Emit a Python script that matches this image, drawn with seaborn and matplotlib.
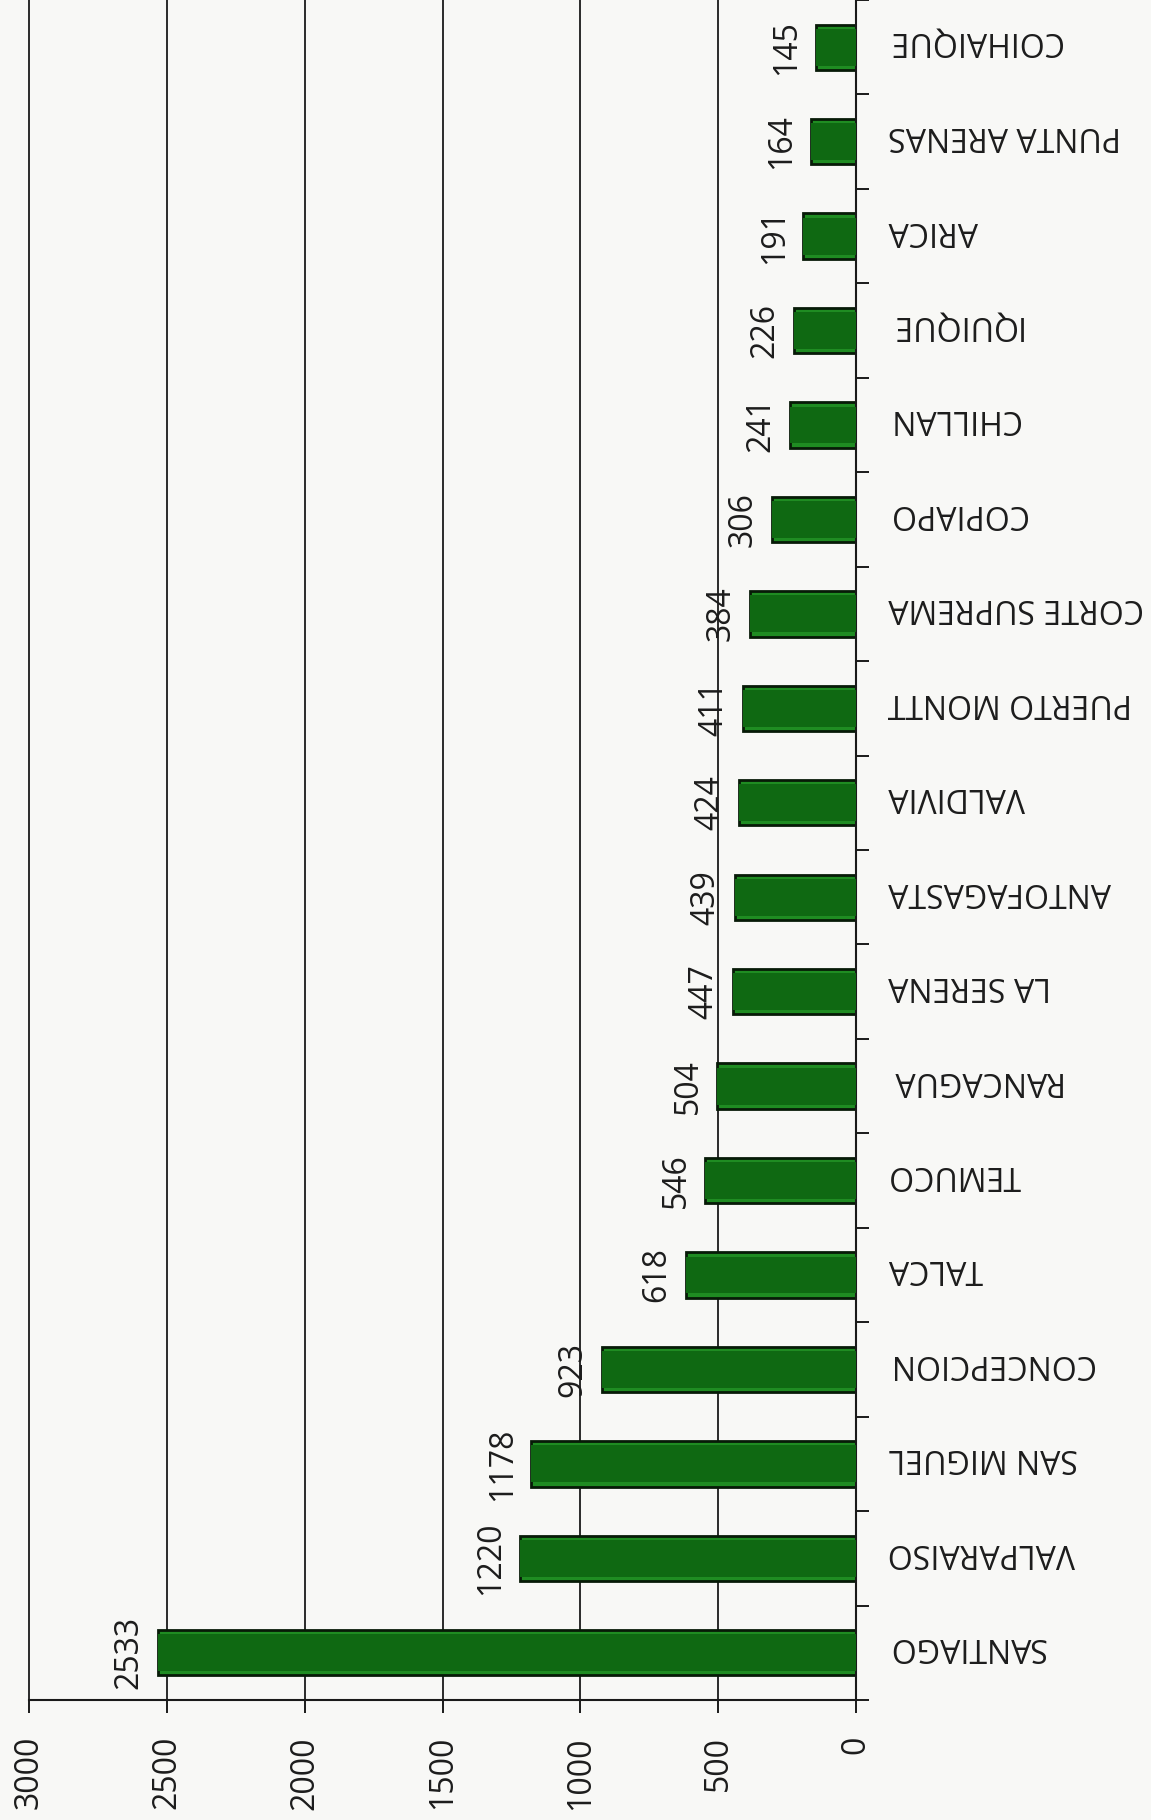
import numpy as np
import pandas as pd
import seaborn as sns
import matplotlib.pyplot as plt
import matplotlib.transforms as mtransforms

# causas por corte, de mayor a menor (pagina escaneada, girada)
cortes = [
    "SANTIAGO", "VALPARAISO", "SAN MIGUEL", "CONCEPCION", "TALCA",
    "TEMUCO", "RANCAGUA", "LA SERENA", "ANTOFAGASTA", "VALDIVIA",
    "PUERTO MONTT", "CORTE SUPREMA", "COPIAPO", "CHILLAN", "IQUIQUE",
    "ARICA", "PUNTA ARENAS", "COIHAIQUE",
]
totales = [2533, 1220, 1178, 923, 618, 546, 504, 447, 439, 424,
           411, 384, 306, 241, 226, 191, 164, 145]
ticks_valor = [0, 500, 1000, 1500, 2000, 2500, 3000]

PAPER = "#f8f8f6"
INK = "#1c1c1c"
FONT = 23

sns.set_style("white")
plt.rcParams["font.family"] = ["Open Sans", "DejaVu Sans"]

df = pd.DataFrame({"corte": cortes, "total": totales})
n = len(cortes)

W, H = 1151, 1820
fig = plt.figure(figsize=(W / 100, H / 100), dpi=100, facecolor=PAPER)
ax = fig.add_axes([29 / W, 120 / H, (856 - 29) / W, 1700 / H])
ax.set_facecolor(PAPER)

# barra base (bisel claro) + centro oscuro
sns.barplot(data=df, x="total", y="corte", orient="h", order=cortes,
            color="#1f8c22", saturation=1, width=0.48,
            edgecolor="#071a07", linewidth=2, ax=ax, zorder=2)
sns.barplot(data=df, x="total", y="corte", orient="h", order=cortes,
            color="#0f6912", saturation=1, width=0.39,
            linewidth=0, ax=ax, zorder=3)

ax.set_xlim(3000, 0)
ax.set_ylim(-0.5, -0.5 + 1700 / 99.4)
ax.set_xlabel("")
ax.set_ylabel("")

# rejilla vertical
ax.set_xticks(ticks_valor)
ax.set_xticklabels([str(t) for t in ticks_valor])
ax.xaxis.grid(True, color="#2a2a2a", linewidth=1.4)
ax.set_axisbelow(True)
for gl in ax.get_xgridlines():
    gl.set_clip_on(False)

for s in ["top", "left"]:
    ax.spines[s].set_visible(False)
ax.spines["right"].set_bounds(-0.5, n - 0.5)
for s in ["right", "bottom"]:
    ax.spines[s].set_color("#1a1a1a")
    ax.spines[s].set_linewidth(1.5)

ax.tick_params(axis="x", direction="out", length=9, width=1.4,
               color="#1a1a1a", pad=17, labelsize=FONT, labelcolor=INK,
               labelrotation=90, bottom=True)

# eje de categorias a la derecha, marcas entre categorias
ax.yaxis.tick_right()
ax.set_yticks(np.arange(-0.5, n, 1.0))
ax.set_yticklabels([])
ax.tick_params(axis="y", which="major", direction="out", length=9,
               width=1.4, color="#1a1a1a")

# nombres de las cortes, girados 180 grados como en el escaneo
shift = mtransforms.ScaledTranslation(32 / 100, 6 / 100, fig.dpi_scale_trans)
for i, name in enumerate(cortes):
    ax.text(1.0, i, name, transform=ax.get_yaxis_transform() + shift,
            rotation=180, ha="left", va="center", fontsize=FONT, color=INK,
            clip_on=False)

for i, v in enumerate(totales):
    ax.annotate(str(v), xy=(v, i), xytext=(-9, 0), textcoords="offset points",
                rotation=90, ha="right", va="center", fontsize=FONT, color=INK)

fig.savefig("out.png", dpi=100, facecolor=PAPER)
